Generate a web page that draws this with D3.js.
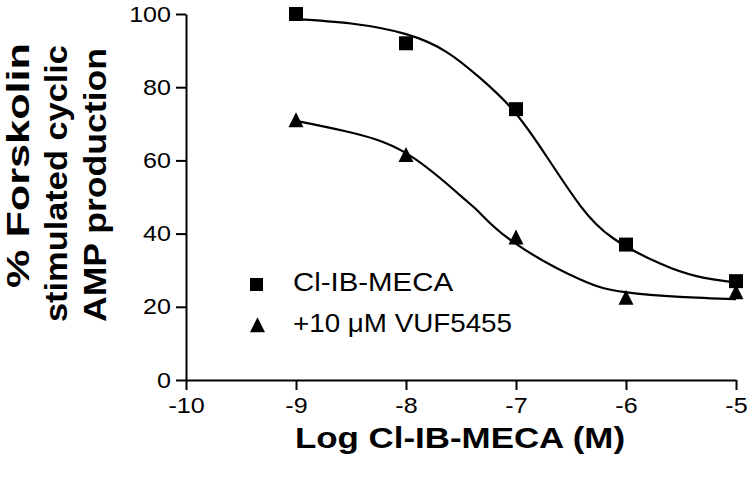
<!DOCTYPE html>
<html>
<head>
<meta charset="utf-8">
<script src="https://cdn.jsdelivr.net/npm/d3@7"></script>
<style>
  html, body { margin: 0; padding: 0; background: #fff; }
  svg { display: block; font-family: "Liberation Sans", Arial, sans-serif; }
</style>
</head>
<body>
<svg id="chart" width="750" height="481"></svg>
<script>
// ---- data ----
const xTicks = [-10, -9, -8, -7, -6, -5];
const yTicks = [0, 20, 40, 60, 80, 100];
const logDose = [-9, -8, -7, -6, -5];
const clIbMeca = [100, 92, 74, 37, 27];
const withVuf = [70.5, 61, 38.5, 22, 23.5];
// fitted curves
const fitClX = [-9, -8.5, -8, -7.63, -7.33, -7.02, -6.72, -6.42, -6.12, -5.69, -5.35, -5];
const fitClY = [98.6, 97.4, 94.5, 89.6, 82.6, 73.5, 61.0, 47.8, 38.8, 31.8, 28.3, 26.6];
const fitVufX = [-9, -8.54, -8, -7.51, -7.33, -7.02, -6.42, -6.01, -5.51, -5];
const fitVufY = [70.8, 67.9, 62.0, 50.5, 45.7, 37.6, 27.5, 24.0, 22.7, 22.1];
const seriesNames = ["Cl-IB-MECA", "+10 \u03BCM VUF5455"];
const xTitle = "Log Cl-IB-MECA (M)";
const yTitleLines = ["% Forskolin", "stimulated cyclic", "AMP production"];

const svg = d3.select("#chart");
const x = d3.scaleLinear().domain([-10, -5]).range([186, 736]);
const y = d3.scaleLinear().domain([0, 100]).range([380, 14]);

function stretch(sel, k) {
  sel.each(function () {
    const w = this.getComputedTextLength();
    d3.select(this).attr("textLength", w * k).attr("lengthAdjust", "spacingAndGlyphs");
  });
}

// axes
const yAxis = svg.append("g").attr("transform", "translate(186,0)")
  .call(d3.axisLeft(y).tickValues(yTicks).tickSize(10).tickSizeOuter(0).tickPadding(5));
const xAxis = svg.append("g").attr("transform", "translate(0,380)")
  .call(d3.axisBottom(x).tickValues(xTicks).tickSize(10).tickSizeOuter(0).tickPadding(7)
    .tickFormat(d3.format("d")));
[yAxis, xAxis].forEach(a => {
  a.selectAll("path, line").attr("stroke", "#000").attr("stroke-width", 2);
  a.selectAll("text").attr("font-size", 22).attr("fill", "#000")
    .style("font-family", "'Liberation Sans', Arial, sans-serif");
});
xAxis.selectAll("text").text(d => d < 0 ? "-" + Math.abs(d) : d);
stretch(yAxis.selectAll("text"), 1.14);
stretch(xAxis.selectAll("text"), 1.14);

// curves
const line = d3.line().x(d => x(d[0])).y(d => y(d[1])).curve(d3.curveNatural);
svg.append("path").datum(fitClX.map((v, i) => [v, fitClY[i]]))
  .attr("d", line).attr("fill", "none").attr("stroke", "#000").attr("stroke-width", 2.2);
svg.append("path").datum(fitVufX.map((v, i) => [v, fitVufY[i]]))
  .attr("d", line).attr("fill", "none").attr("stroke", "#000").attr("stroke-width", 2.2);

// markers
const sq = d3.symbol().type(d3.symbolSquare).size(196);
const triPath = "M0,-9.7L7.5,5.3L-7.5,5.3Z";
svg.append("g").selectAll("path").data(logDose).join("path")
  .attr("d", sq).attr("fill", "#000")
  .attr("transform", (d, i) => `translate(${x(d)},${y(clIbMeca[i])})`);
svg.append("g").selectAll("path").data(logDose).join("path")
  .attr("d", triPath).attr("fill", "#000")
  .attr("transform", (d, i) => `translate(${x(d)},${y(withVuf[i])})`);

// legend
svg.append("path").attr("d", d3.symbol().type(d3.symbolSquare).size(169)).attr("fill", "#000")
  .attr("transform", "translate(256.5,284.5)");
svg.append("path").attr("d", triPath).attr("fill", "#000")
  .attr("transform", "translate(257.5,327)");
svg.append("text").attr("x", 293).attr("y", 291).attr("font-size", 25).text(seriesNames[0])
  .attr("textLength", 160).attr("lengthAdjust", "spacingAndGlyphs");
svg.append("text").attr("x", 293).attr("y", 332).attr("font-size", 25).text(seriesNames[1])
  .attr("textLength", 219).attr("lengthAdjust", "spacingAndGlyphs");

// axis titles
svg.append("text").attr("x", 295).attr("y", 448).attr("font-size", 29).attr("font-weight", "bold")
  .text(xTitle).attr("textLength", 330).attr("lengthAdjust", "spacingAndGlyphs");

const yT = [
  { bx: 29, start: 288, len: 245 },
  { bx: 67, start: 322, len: 277 },
  { bx: 106, start: 322, len: 274 }
];
yTitleLines.forEach((t, i) => {
  svg.append("text")
    .attr("transform", `translate(${yT[i].bx},${yT[i].start}) rotate(-90)`)
    .attr("font-size", 31).attr("font-weight", "bold")
    .attr("textLength", yT[i].len).attr("lengthAdjust", "spacingAndGlyphs")
    .text(t);
});
</script>
</body>
</html>
